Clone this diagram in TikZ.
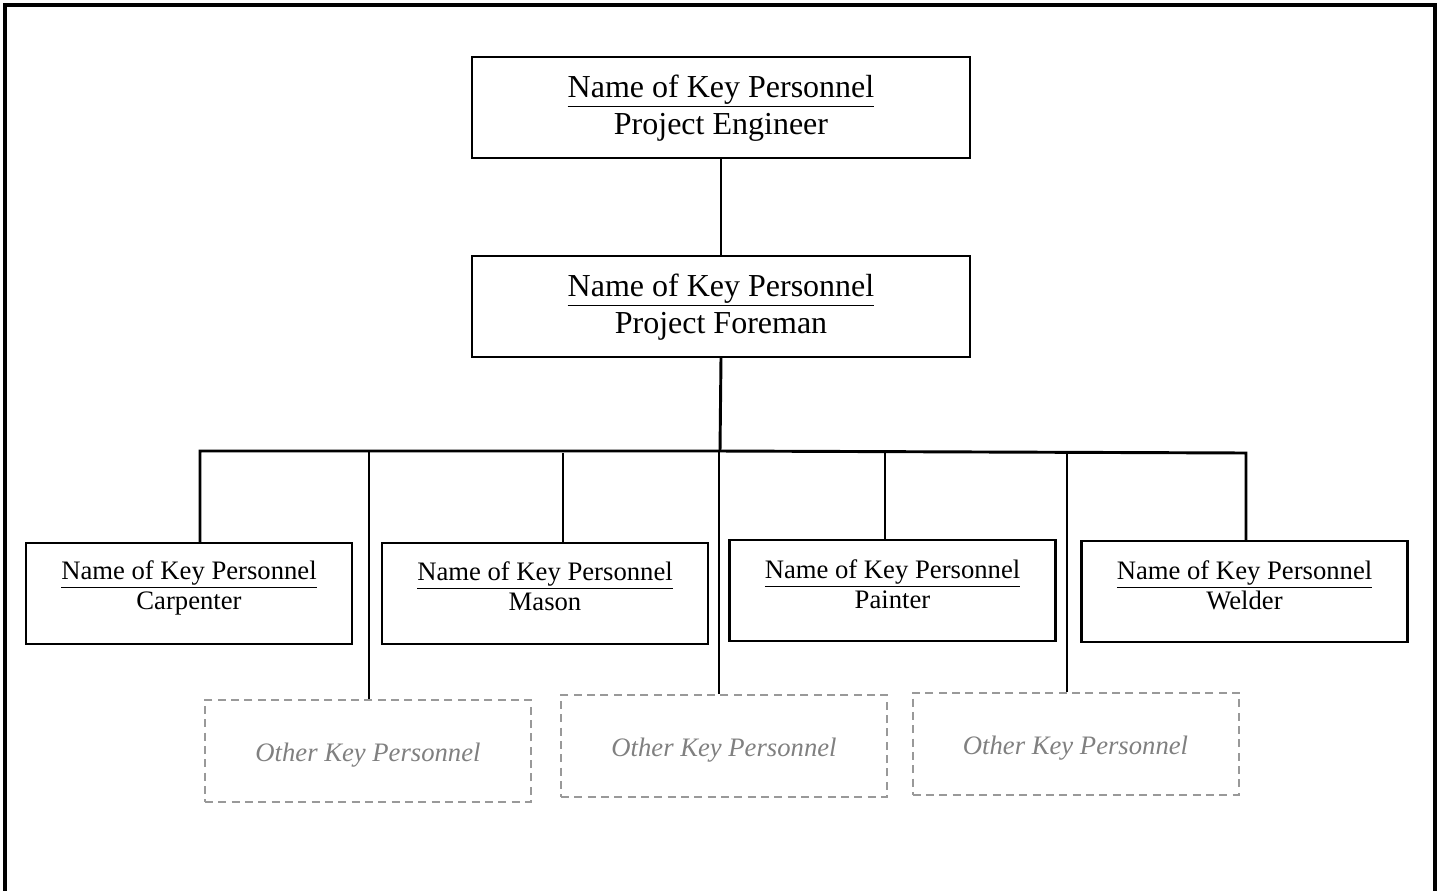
\documentclass[tikz,border=0pt]{standalone}
\usepackage{fontspec}
\setmainfont{Liberation Serif}
\begin{document}
\begin{tikzpicture}[x=0.75pt,y=-0.75pt,
  bigbox/.style={draw,line width=1.6pt,minimum width=373.5pt,minimum height=75.75pt,inner sep=0pt},
  smallbox/.style={draw,line width=1.6pt,minimum width=244.5pt,minimum height=75.75pt,inner sep=0pt},
  otherbox/.style={draw=gray!80,line width=1.5pt,dash pattern=on 6pt off 4pt,minimum width=244.5pt,minimum height=76.5pt,inner sep=0pt},
  bigtext/.style={align=center,font=\fontsize{24}{27.75}\selectfont,inner sep=0pt},
  smalltext/.style={align=center,font=\fontsize{20}{22.5}\selectfont,inner sep=0pt},
  othertext/.style={font=\fontsize{20}{22.5}\selectfont\itshape,text=gray,inner sep=0pt},
  conn/.style={line width=2.2pt}]
\useasboundingbox (0,0) rectangle (1439,890);
% outer frame
\draw[line width=2.6pt] (5,900) -- (5,5) -- (1435,5) -- (1435,900);
% boxes
\node[bigbox] (eng) at (721,107.5) {};
\node[bigtext] (engt) at (721,108) {\underline{Name of Key Personnel}\\Project Engineer};
\node[bigbox] (fore) at (721,306.5) {};
\node[bigtext] (foret) at (721,307) {\underline{Name of Key Personnel}\\Project Foreman};
\node[smallbox] (carp) at (189,593.5) {};
\node[smalltext] (carpt) at (189,588) {\underline{Name of Key Personnel}\\Carpenter};
\node[smallbox] (mason) at (545,593.5) {};
\node[smalltext] (masont) at (545,586) {\underline{Name of Key Personnel}\\Mason};
\node[smallbox] (paint) at (892.5,590.5) {};
\node[smalltext] (paintt) at (892.5,584) {\underline{Name of Key Personnel}\\Painter};
\node[smallbox] (weld) at (1244.5,591.5) {};
\node[smalltext] (weldt) at (1244.5,585) {\underline{Name of Key Personnel}\\Welder};
\node[otherbox] (o1) at (368,751) {};
\node[othertext] (o1t) at (368,755) {Other Key Personnel};
\node[otherbox] (o2) at (724,746) {};
\node[othertext] (o2t) at (724,750) {Other Key Personnel};
\node[otherbox] (o3) at (1075.5,743.5) {};
\node[othertext] (o3t) at (1075.5,748) {Other Key Personnel};
% connectors
\coordinate (hub) at (720,451);
\coordinate (bL) at (200,451);
\coordinate (bR) at (1246,453);
\coordinate (d1) at (369,451);
\coordinate (d2) at (563,453);
\coordinate (d3) at (719,451);
\coordinate (d4) at (885,453);
\coordinate (d5) at (1067,453);
\draw[conn] (eng.south) -- (fore.north);
\draw[conn] (fore.south) -- (hub);
\draw[conn] (bL |- carp.north) -- (bL) -- (hub) -- (bR) -- (bR |- weld.north);
\draw[conn] (d1) -- (d1 |- o1.north);
\draw[conn] (d2) -- (d2 |- mason.north);
\draw[conn] (d3) -- (d3 |- o2.north);
\draw[conn] (d4) -- (d4 |- paint.north);
\draw[conn] (d5) -- (d5 |- o3.north);
\end{tikzpicture}
\end{document}
